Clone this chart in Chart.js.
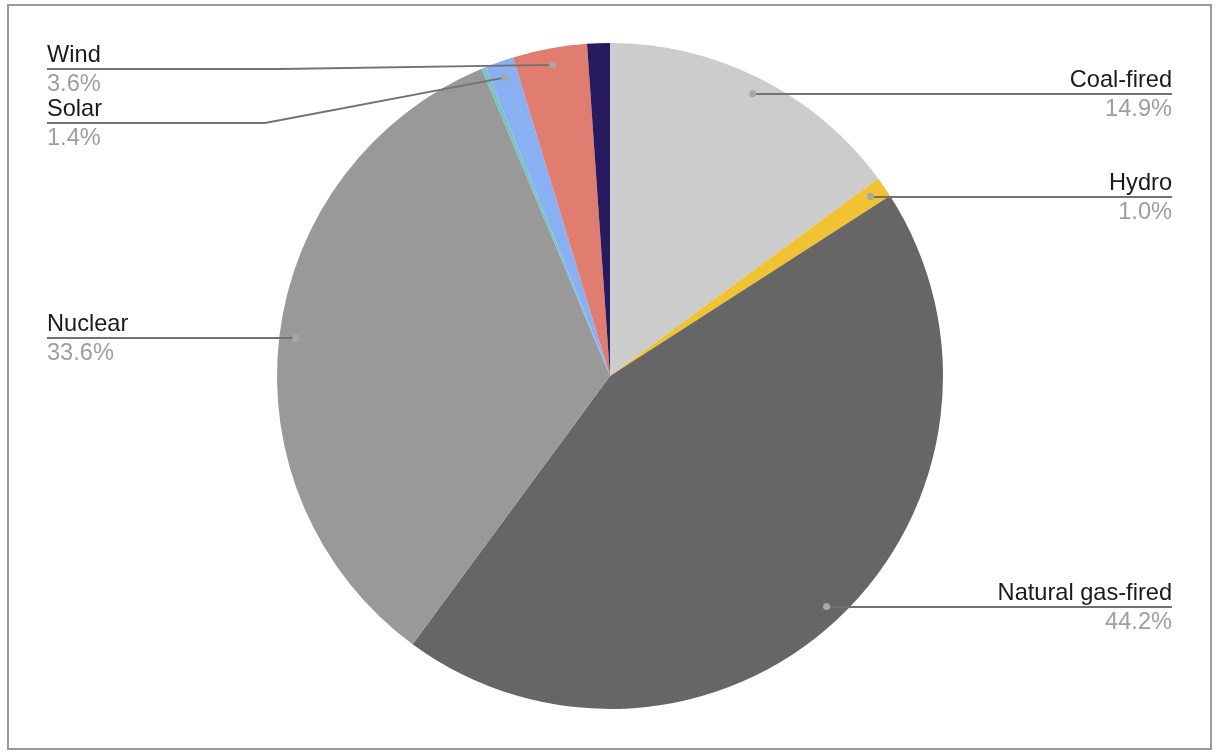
<!DOCTYPE html>
<html>
<head>
<meta charset="utf-8">
<script src="https://cdn.jsdelivr.net/npm/chart.js@4"></script>
<style>
  body { margin: 0; background: #fff; }
  #wrap { position: relative; width: 1222px; height: 756px; }
  #frame { position: absolute; left: 7px; top: 4px; width: 1201px; height: 742px; border: 2px solid #9a9a9a; pointer-events: none; }
</style>
</head>
<body>
<div id="wrap">
  <canvas id="c" width="1222" height="756"></canvas>
  <div id="frame"></div>
</div>
<script>
const sources = ["Coal-fired", "Hydro", "Natural gas-fired", "Nuclear", "Geothermal", "Solar", "Wind", "Other"];
const shares = [14.9, 1.0, 44.2, 33.6, 0.2, 1.4, 3.6, 1.1];
const sliceColors = ["#cccccc", "#f1c232", "#666666", "#999999", "#76c5c0", "#8ab0f4", "#e07d70", "#281a5e"];
const labelled = ["Coal-fired", "Hydro", "Natural gas-fired", "Nuclear", "Solar", "Wind"];

// left-side labels that google nudged off the dot height
const nudges = {
  "Wind": { y: 69, bend: 280 },
  "Solar": { y: 123, bend: 265 },
};

const calloutPlugin = {
  id: "callouts",
  afterDatasetsDraw(chart) {
    const ctx = chart.ctx;
    const arcs = chart.getDatasetMeta(0).data;
    const font = '23.6px "Liberation Sans", Arial, sans-serif';
    arcs.forEach(function (arc, i) {
      const name = sources[i];
      if (labelled.indexOf(name) < 0) return;
      const p = arc.getProps(["x", "y", "startAngle", "endAngle", "outerRadius"], true);
      const mid = (p.startAngle + p.endAngle) / 2;
      const dx = p.x + Math.cos(mid) * p.outerRadius * 0.95;
      const dy = p.y + Math.sin(mid) * p.outerRadius * 0.95;
      const right = Math.cos(mid) >= 0;
      const edge = right ? 1172 : 47;
      const nudge = nudges[name];
      const ly = nudge ? nudge.y : Math.round(dy);

      ctx.save();
      ctx.strokeStyle = "#727272";
      ctx.lineWidth = 1.8;
      ctx.beginPath();
      ctx.moveTo(edge, ly);
      if (nudge) {
        ctx.lineTo(nudge.bend, ly);
        ctx.lineTo(dx, dy);
      } else {
        ctx.lineTo(dx, ly);
      }
      ctx.stroke();

      ctx.fillStyle = "#a8a8a8";
      ctx.beginPath();
      ctx.arc(dx, dy, 3.5, 0, Math.PI * 2);
      ctx.fill();

      ctx.font = font;
      ctx.textAlign = right ? "right" : "left";
      ctx.textBaseline = "alphabetic";
      ctx.fillStyle = "#1a1a1a";
      ctx.fillText(name, edge, ly - 7);
      ctx.fillStyle = "#9e9e9e";
      ctx.fillText(shares[i].toFixed(1) + "%", edge, ly + 22);
      ctx.restore();
    });
  },
};

new Chart(document.getElementById("c"), {
  type: "pie",
  data: {
    labels: sources,
    datasets: [{
      data: shares,
      backgroundColor: sliceColors,
      borderWidth: 0,
    }],
  },
  options: {
    responsive: false,
    animation: false,
    layout: { padding: { top: 43, bottom: 47, left: 200, right: 202 } },
    plugins: {
      legend: { display: false },
      tooltip: { enabled: false },
    },
  },
  plugins: [calloutPlugin],
});
</script>
</body>
</html>
